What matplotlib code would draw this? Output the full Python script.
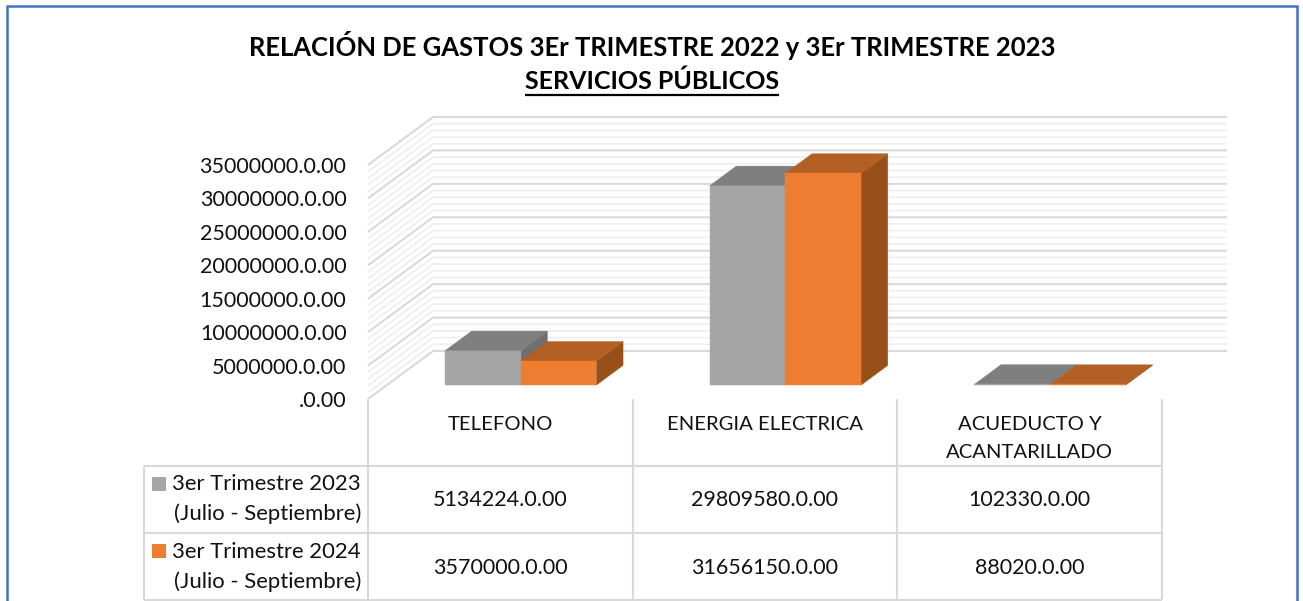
import numpy as np
import matplotlib
matplotlib.use("Agg")
import matplotlib.pyplot as plt
from matplotlib.lines import Line2D
from matplotlib.patches import Polygon, Rectangle
from matplotlib.transforms import Affine2D

plt.rcParams['font.family'] = ['Lato', 'DejaVu Sans']

title_1 = "RELACIÓN DE GASTOS 3Er TRIMESTRE 2022 y 3Er TRIMESTRE 2023"
title_2 = "SERVICIOS PÚBLICOS"
categories = ["TELEFONO", "ENERGIA ELECTRICA", "ACUEDUCTO Y\nACANTARILLADO"]
series_names = ["3er Trimestre 2023\n(Julio - Septiembre)", "3er Trimestre 2024\n(Julio - Septiembre)"]
values_2023 = [5134224, 29809580, 102330]
values_2024 = [3570000, 31656150, 88020]
y_ticks = [0, 5000000, 10000000, 15000000, 20000000, 25000000, 30000000, 35000000]
y_labels = [".0.00", "5000000.0.00", "10000000.0.00", "15000000.0.00", "20000000.0.00",
            "25000000.0.00", "30000000.0.00", "35000000.0.00"]

W, H = 1303, 601
fig = plt.figure(figsize=(W / 100, H / 100), dpi=100, facecolor="white")
# pixel coords, y going down, same as the screenshot
pix = Affine2D().scale(1, -1).translate(0, H)

# axes = front plane of the fake 3d box
left, right, top, bottom = 368, 1162, 165, 399
ax = fig.add_axes([left / W, 1 - bottom / H, (right - left) / W, (bottom - top) / H])
ax.set_xlim(0, 3)
ax.set_ylim(0, 35000000)
ax.patch.set_alpha(0)
for s in ax.spines.values():
    s.set_visible(False)
ax.set_xticks([])
ax.set_yticks(y_ticks, y_labels, fontsize=15.5, color="#111111")
ax.tick_params(axis="y", length=0, pad=15.5)

# depth of the box in data units
px_x = 3 / (right - left)
px_v = 35000000 / (bottom - top)
DX = 65 * px_x
DV = 48 * px_v


def proj(x, v, d):
    return (x + d * DX, v + d * DV)


# back wall lines
wall_end = (1227 - left) * px_x
for i in range(36):
    v = i * 1000000
    major = i % 5 == 0
    col = "#d9d9d9" if major else "#efefef"
    lw = 1.5 if major else 1.3
    p0 = proj(0, v, 0)
    p1 = proj(0, v, 1)
    ax.plot([p0[0], p1[0], wall_end], [p0[1], p1[1], p1[1]], color=col, lw=lw,
            clip_on=False, zorder=2 if major else 1, solid_capstyle="butt")

bar_w = 75.7 * px_x
d0, d1 = 0.29, 0.70
offset = 77 * px_x


def draw_bar(x0, val, front, top_col, side):
    x1 = x0 + bar_w
    # x0 is where the front face starts on screen, so take the depth shift back out
    x0 -= d0 * DX
    x1 -= d0 * DX
    quad_top = [proj(x0, val, d0), proj(x1, val, d0), proj(x1, val, d1), proj(x0, val, d1)]
    quad_side = [proj(x1, 0, d0), proj(x1, val, d0), proj(x1, val, d1), proj(x1, 0, d1)]
    quad_front = [proj(x0, 0, d0), proj(x1, 0, d0), proj(x1, val, d0), proj(x0, val, d0)]
    for q, c in ((quad_side, side), (quad_top, top_col), (quad_front, front)):
        ax.add_patch(Polygon(q, closed=True, facecolor=c, edgecolor=c, lw=0.3, clip_on=False, zorder=5))


for i in range(3):
    x0 = i + offset
    draw_bar(x0, values_2023[i], "#a5a5a5", "#7f7f7f", "#6f6f6f")
    draw_bar(x0 + bar_w, values_2024[i], "#ed7d31", "#b45f23", "#985019")


def pline(xs, ys, col="#d9d9d9", lw=1.5):
    fig.add_artist(Line2D(xs, ys, color=col, lw=lw, transform=pix, solid_capstyle="butt"))


def ptext(x, y, s, **kw):
    kw.setdefault("ha", "center")
    kw.setdefault("va", "center")
    kw.setdefault("color", "#111111")
    fig.text(x, y, s, transform=pix, **kw)


# outer frame of the screenshot
frame = "#4472c4"
pline([7, 7], [6, 601], frame, 1.8)
pline([6, 1298], [6, 6], frame, 1.8)
pline([1297, 1297], [6, 601], frame, 1.8)

# titles
ptext(652, 45.5, title_1, fontsize=18.45, fontweight="bold", color="black")
ptext(652, 81, title_2, fontsize=18, fontweight="bold", color="black")
pline([525, 779], [95, 95], "black", 1.6)

# data table under the chart
col_x = [368, 633, 897, 1162]
row_y = [466, 533, 600]
for x in col_x:
    pline([x, x], [399, 600])
pline([144, 144], [466, 600])
for y in row_y:
    pline([144, 1162], [y, y])

for i, c in enumerate(categories):
    xc = (col_x[i] + col_x[i + 1]) / 2
    if "\n" in c:
        a, b = c.split("\n")
        ptext(xc, 425, a, fontsize=14.6)
        ptext(xc, 453, b, fontsize=14.6)
    else:
        ptext(xc, 425, c, fontsize=14.6)

key_cols = ["#a5a5a5", "#ed7d31"]
for r, vals in enumerate([values_2023, values_2024]):
    y0 = row_y[r]
    a, b = series_names[r].split("\n")
    fig.add_artist(Rectangle((152, y0 + 11), 14, 14, facecolor=key_cols[r], edgecolor="none", transform=pix))
    ptext(361, y0 + 18 + r * 1.5, a, ha="right", fontsize=15.9)
    ptext(361, y0 + 48 + r * 1, b, ha="right", fontsize=15.9)
    for i, v in enumerate(vals):
        xc = (col_x[i] + col_x[i + 1]) / 2
        ptext(xc, y0 + 34 + r * 1.5, f"{v}.0.00", fontsize=15.5)

fig.savefig("out.png", dpi=100)
